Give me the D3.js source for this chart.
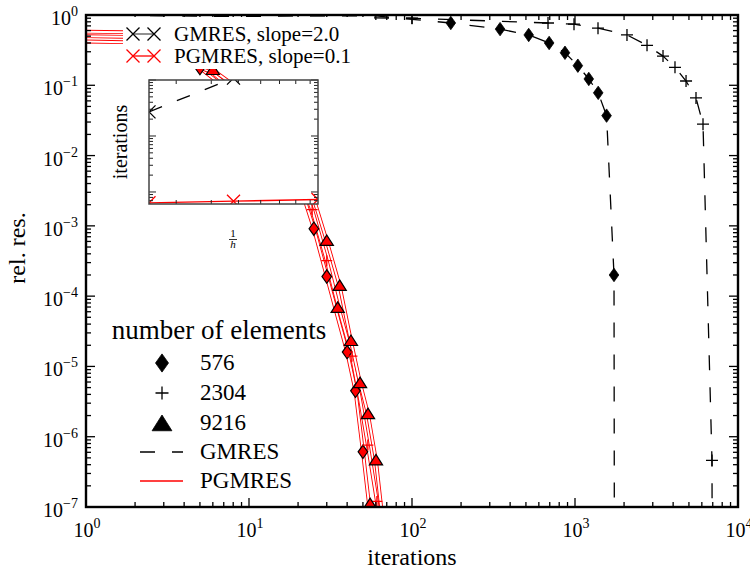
<!DOCTYPE html>
<html>
<head>
<meta charset="utf-8">
<script src="https://cdnjs.cloudflare.com/ajax/libs/d3/7.8.5/d3.min.js"></script>
<style>
body { margin: 0; background: #fff; }
text { font-family: "Liberation Serif", "DejaVu Serif", serif; }
</style>
</head>
<body>
<svg id="chart" width="750" height="573" font-family="Liberation Serif, DejaVu Serif, serif"></svg>
<script>
// ---- data: [iterations, relative residual] ----
// GMRES, no preconditioner (dashed black)
var gmres576Line = [[1,1],[60,0.97],[173,0.77],[347,0.63],[520,0.52],[694,0.40],[868,0.29],[1041,0.19],[1215,0.123],[1388,0.078],[1562,0.037],[1735,2.0e-4],[1745,1e-8]];
var gmres576Marks = [[173,0.77],[347,0.63],[520,0.52],[694,0.40],[868,0.29],[1041,0.19],[1215,0.123],[1388,0.078],[1562,0.037],[1735,2.0e-4]];
var gmres2304Line = [[1,1],[100,0.9],[683,0.77],[986,0.74],[1384,0.65],[2084,0.52],[2766,0.37],[3467,0.26],[4106,0.18],[4800,0.115],[5525,0.066],[6100,0.028],[6925,4.6e-7],[6950,1e-8]];
var gmres2304Marks = [[100,0.9],[683,0.77],[986,0.74],[1384,0.65],[2084,0.52],[2766,0.37],[3467,0.26],[4106,0.18],[4800,0.115],[5525,0.066],[6100,0.028],[6925,4.6e-7]];

// PGMRES (red)
var pg576Line = [[1,0.58],[1.7,0.57],[3,0.33],[5,0.176],[8,0.075],[12,0.027],[16,0.01],[20,3.8e-3],[22,2.3e-3],[25,9.1e-4],[30,1.9e-4],[35,5e-5],[40,1.6e-5],[45,4.5e-6],[50,6.1e-7],[55,9e-8]];
var pg576Marks = [[5,0.176],[25,9.1e-4],[30,1.9e-4],[40,1.6e-5],[45,4.5e-6],[50,6.1e-7]];
var pg2304Line = [[1,0.5],[1.7,0.49],[3,0.3],[6,0.15],[10,0.055],[15,0.018],[20,5.5e-3],[24.4,1.7e-3],[30,3.2e-4],[36,6e-5],[42.8,1.4e-5],[48,3.4e-6],[53.6,7.6e-7],[60.9,1.2e-7],[62,8e-8]];
var pg2304Marks = [[24.4,1.7e-3],[30,3.2e-4],[42.8,1.4e-5],[53.6,7.6e-7],[60.9,1.2e-7]];
var pg9216Line = [[1,0.42],[1.7,0.41],[3,0.3],[6,0.165],[10,0.07],[15,0.025],[20,8e-3],[25,2.4e-3],[30,6.1e-4],[36,1.4e-4],[42.2,2.3e-5],[48,5.8e-6],[53.7,2.1e-6],[60.1,4.6e-7],[65,9e-8]];
var pg9216Marks = [[6,0.165],[30,6.1e-4],[36,1.4e-4],[35,6.8e-5],[42.2,2.3e-5],[48,5.8e-6],[53.7,2.1e-6],[60.1,4.6e-7],[55.3,1.1e-7]];

// inset: iterations against 1/h
var insetInvH = [24, 48, 96];
var insetGmres = [2700, 10800, 43200];
var insetPgmres = [64, 68.5, 73.4];

var elementCounts = ["576", "2304", "9216"];
var methodNames = ["GMRES", "PGMRES"];
var slopeLabels = ["GMRES, slope=2.0", "PGMRES, slope=0.1"];

var xExps = [0, 1, 2, 3, 4];
var yExps = [0, -1, -2, -3, -4, -5, -6, -7];

// ---- setup ----
var svg = d3.select("#chart");
var x = d3.scaleLog().domain([1, 1e4]).range([86, 738]);
var y = d3.scaleLog().domain([1e-7, 1]).range([507, 15]);

var line = d3.line().x(function(d){ return x(d[0]); }).y(function(d){ return y(d[1]); });

function shape(kind, s) {
	if (kind == "diamond") return "M0," + (-s*1.4) + "L" + s + ",0L0," + (s*1.4) + "L" + (-s) + ",0Z";
	if (kind == "triangle") return "M0," + (-s) + "L" + (s*1.1) + "," + (s*0.75) + "L" + (-s*1.1) + "," + (s*0.75) + "Z";
	if (kind == "plus") return "M" + (-s) + ",0H" + s + "M0," + (-s) + "V" + s;
	return "M" + (-s) + "," + (-s) + "L" + s + "," + s + "M" + (-s) + "," + s + "L" + s + "," + (-s);
}

function markStyle(sel, kind, col) {
	if (kind == "plus" || kind == "x") {
		sel.style("fill", "none").style("stroke", col).style("stroke-width", 1.3);
	} else {
		sel.style("fill", col).style("stroke", "black").style("stroke-width", col == "black" ? 0.8 : 1.2);
	}
}

svg.append("defs").append("clipPath").attr("id", "plotclip")
	.append("rect").attr("x", 86).attr("y", 15).attr("width", 652).attr("height", 492);

var plot = svg.append("g").attr("clip-path", "url(#plotclip)");

// red PGMRES curves (thin red outline look)
var redSeries = [
	{line: pg576Line, marks: pg576Marks, kind: "diamond", size: 4.8},
	{line: pg2304Line, marks: pg2304Marks, kind: "plus", size: 5.5},
	{line: pg9216Line, marks: pg9216Marks, kind: "triangle", size: 6}
];
redSeries.forEach(function(s){
	plot.append("path").attr("d", line(s.line))
		.style("fill", "none").style("stroke", "red").style("stroke-width", 3.8);
	plot.append("path").attr("d", line(s.line))
		.style("fill", "none").style("stroke", "white").style("stroke-width", 2);
});
redSeries.forEach(function(s){
	plot.selectAll(null).data(s.marks).enter().append("path")
		.attr("d", shape(s.kind, s.size))
		.attr("transform", function(d){ return "translate(" + x(d[0]) + "," + y(d[1]) + ")"; })
		.call(markStyle, s.kind, "red");
});

// black GMRES curves
var blackSeries = [
	{line: gmres576Line, marks: gmres576Marks, kind: "diamond", size: 4.8},
	{line: gmres2304Line, marks: gmres2304Marks, kind: "plus", size: 6}
];
blackSeries.forEach(function(s){
	plot.append("path").attr("d", line(s.line))
		.style("fill", "none").style("stroke", "black").style("stroke-width", 1.3)
		.style("stroke-dasharray", "15,17");
	plot.selectAll(null).data(s.marks).enter().append("path")
		.attr("d", shape(s.kind, s.size))
		.attr("transform", function(d){ return "translate(" + x(d[0]) + "," + y(d[1]) + ")"; })
		.call(markStyle, s.kind, "black");
});

// ---- axes: ticks inward on all four sides ----
var axes = svg.append("g");
x.ticks().forEach(function(t){
	var major = Math.abs(Math.log10(t) - Math.round(Math.log10(t))) < 1e-9;
	var len = major ? 9 : 5;
	axes.append("line").attr("x1", x(t)).attr("x2", x(t)).attr("y1", 507).attr("y2", 507 - len);
	axes.append("line").attr("x1", x(t)).attr("x2", x(t)).attr("y1", 15).attr("y2", 15 + len);
});
y.ticks().forEach(function(t){
	var major = Math.abs(Math.log10(t) - Math.round(Math.log10(t))) < 1e-9;
	var len = major ? 9 : 5;
	axes.append("line").attr("y1", y(t)).attr("y2", y(t)).attr("x1", 86).attr("x2", 86 + len);
	axes.append("line").attr("y1", y(t)).attr("y2", y(t)).attr("x1", 738).attr("x2", 738 - len);
});
axes.selectAll("line").style("stroke", "black").style("stroke-width", 1.3);

function powLabel(g, px, py, e, anchor) {
	var t = g.append("text").attr("x", px).attr("y", py).attr("text-anchor", anchor)
		.style("font-size", "20px");
	t.append("tspan").text("10");
	t.append("tspan").attr("dy", -9).style("font-size", "14px").text(e < 0 ? "\u2212" + (-e) : "" + e);
}
xExps.forEach(function(e){ powLabel(svg, x(Math.pow(10, e)) + 1, 537, e, "middle"); });
yExps.forEach(function(e){ powLabel(svg, 78, y(Math.pow(10, e)) + 10, e, "end"); });

svg.append("text").attr("x", 412).attr("y", 565).attr("text-anchor", "middle")
	.style("font-size", "24px").text("iterations");
svg.append("text").attr("transform", "translate(25,248) rotate(-90)").attr("text-anchor", "middle")
	.style("font-size", "24px").text("rel. res.");

// ---- top legend (white box, no frame) ----
var leg1 = svg.append("g");
leg1.append("rect").attr("x", 123).attr("y", 17).attr("width", 245).attr("height", 52).style("fill", "white");
[["black", 34], ["red", 56]].forEach(function(c, i){
	leg1.append("line").attr("x1", 133).attr("x2", 154).attr("y1", c[1]).attr("y2", c[1])
		.style("stroke", i == 0 ? "#555" : "red").style("stroke-width", 1.3);
	[133, 154].forEach(function(px){
		leg1.append("path").attr("d", shape("x", 6.5)).attr("transform", "translate(" + px + "," + c[1] + ")")
			.call(markStyle, "x", c[0]);
	});
	leg1.append("text").attr("x", 174).attr("y", c[1] + 7).style("font-size", "21px").text(slopeLabels[i]);
});

// ---- inset ----
var ix = d3.scaleLog().domain([24, 96]).range([149, 318]);
var iy = d3.scaleLog().domain([61, 10000]).range([204, 80]);
var inset = svg.append("g");
inset.append("rect").attr("x", 149).attr("y", 80).attr("width", 169).attr("height", 124).style("fill", "white");
svg.select("defs").append("clipPath").attr("id", "insetclip")
	.append("rect").attr("x", 149).attr("y", 80).attr("width", 169).attr("height", 124);
var ic = inset.append("g").attr("clip-path", "url(#insetclip)");
var iline = d3.line().x(function(d){ return ix(d[0]); }).y(function(d){ return iy(d[1]); });
var gPts = insetInvH.map(function(v, i){ return [v, insetGmres[i]]; });
var pPts = insetInvH.map(function(v, i){ return [v, insetPgmres[i]]; });
ic.append("path").attr("d", iline(gPts)).style("fill", "none").style("stroke", "black")
	.style("stroke-width", 1.3).style("stroke-dasharray", "14,16");
ic.append("path").attr("d", iline(pPts)).style("fill", "none").style("stroke", "red").style("stroke-width", 1.3);
[[gPts, "black"], [pPts, "red"]].forEach(function(p){
	ic.selectAll(null).data(p[0]).enter().append("path").attr("d", shape("x", 6.5))
		.attr("transform", function(d){ return "translate(" + ix(d[0]) + "," + iy(d[1]) + ")"; })
		.call(markStyle, "x", p[1]);
});
var iaxes = inset.append("g");
ix.ticks().forEach(function(t){
	iaxes.append("line").attr("x1", ix(t)).attr("x2", ix(t)).attr("y1", 204).attr("y2", 200);
	iaxes.append("line").attr("x1", ix(t)).attr("x2", ix(t)).attr("y1", 80).attr("y2", 84);
});
iy.ticks().forEach(function(t){
	var major = Math.abs(Math.log10(t) - Math.round(Math.log10(t))) < 1e-9;
	var len = major ? 7 : 4;
	iaxes.append("line").attr("y1", iy(t)).attr("y2", iy(t)).attr("x1", 149).attr("x2", 149 + len);
	iaxes.append("line").attr("y1", iy(t)).attr("y2", iy(t)).attr("x1", 318).attr("x2", 318 - len);
});
iaxes.selectAll("line").style("stroke", "#222").style("stroke-width", 1);
inset.append("rect").attr("x", 149).attr("y", 80).attr("width", 169).attr("height", 124)
	.style("fill", "none").style("stroke", "#444").style("stroke-width", 1.5);
inset.append("text").attr("transform", "translate(127,142) rotate(-90)").attr("text-anchor", "middle")
	.style("font-size", "20px").text("iterations");
inset.append("text").attr("x", 233).attr("y", 237).attr("text-anchor", "middle").style("font-size", "11px").text("1");
inset.append("line").attr("x1", 229).attr("x2", 237).attr("y1", 239.5).attr("y2", 239.5)
	.style("stroke", "black").style("stroke-width", 0.8);
inset.append("text").attr("x", 233).attr("y", 248).attr("text-anchor", "middle")
	.style("font-size", "11px").style("font-style", "italic").text("h");

// ---- bottom legend ----
var leg2 = svg.append("g");
leg2.append("text").attr("x", 219).attr("y", 339).attr("text-anchor", "middle")
	.style("font-size", "27px").text("number of elements");
var legKinds = [["diamond", 6.5], ["plus", 6.5], ["triangle", 9]];
elementCounts.forEach(function(n, i){
	var cy = 363 + i * 30;
	leg2.append("path").attr("d", shape(legKinds[i][0], legKinds[i][1]))
		.attr("transform", "translate(162," + (i == 2 ? cy + 1 : cy) + ")")
		.call(markStyle, legKinds[i][0], "black");
	leg2.append("text").attr("x", 200).attr("y", cy + 7).style("font-size", "23px").text(n);
});
methodNames.forEach(function(m, i){
	var cy = 452 + i * 29;
	leg2.append("line").attr("x1", 140).attr("x2", 183).attr("y1", cy).attr("y2", cy)
		.style("stroke", i == 0 ? "black" : "red").style("stroke-width", 1.3)
		.style("stroke-dasharray", i == 0 ? "15,17" : null);
	leg2.append("text").attr("x", 200).attr("y", cy + 7).style("font-size", "23px").text(m);
});

// frame on top
svg.append("rect").attr("x", 86).attr("y", 15).attr("width", 652).attr("height", 492)
	.style("fill", "none").style("stroke", "black").style("stroke-width", 2.4);
</script>
</body>
</html>
